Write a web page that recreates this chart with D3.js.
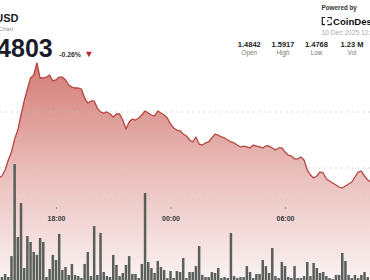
<!DOCTYPE html>
<html><head><meta charset="utf-8">
<script src="https://cdn.jsdelivr.net/npm/d3@7"></script>
<style>
html,body{margin:0;padding:0;background:#fff;overflow:hidden}
svg{display:block;font-family:"Liberation Sans",Arial,sans-serif}
</style></head>
<body>
<svg id="c" width="370" height="280"></svg>
<script>
// ---- data ----
const pairLabel = "USD";
const subtitle = "Chart";
const lastPrice = "1.4803";
const changePct = "-0.26%";
const statValues = ["1.4842", "1.5917", "1.4768", "1.23 M"];
const statLabels = ["Open", "High", "Low", "Vol"];
const timestamp = "10 Dec 2025 12:00";
const timeTicks = ["18:00", "00:00", "06:00"];
// 10-minute closes, starting 9 Dec 15:00
const prices = [
1.4860,1.4878,1.4933,1.5025,1.5099,1.5218,1.5301,1.5439,1.5568,1.5678,
1.5779,1.5807,1.5917,1.5779,1.5779,1.5788,1.5807,1.5752,1.5761,1.5788,
1.5788,1.5761,1.5715,1.5696,1.5687,1.5687,1.5678,1.5595,1.5549,1.5568,
1.5568,1.5503,1.5467,1.5457,1.5467,1.5448,1.5421,1.5448,1.5448,1.5393,
1.5310,1.5375,1.5402,1.5393,1.5411,1.5439,1.5476,1.5457,1.5439,1.5430,
1.5476,1.5457,1.5439,1.5411,1.5356,1.5320,1.5301,1.5292,1.5264,1.5246,
1.5209,1.5191,1.5237,1.5172,1.5163,1.5182,1.5191,1.5228,1.5264,1.5255,
1.5237,1.5228,1.5209,1.5191,1.5182,1.5163,1.5145,1.5154,1.5145,1.5136,
1.5163,1.5154,1.5145,1.5136,1.5154,1.5154,1.5136,1.5117,1.5136,1.5136,
1.5099,1.5071,1.5062,1.5035,1.5035,1.5053,1.5025,1.4933,1.4888,1.4860,
1.4878,1.4915,1.4906,1.4851,1.4832,1.4814,1.4796,1.4777,1.4768,1.4786,
1.4805,1.4823,1.4869,1.4915,1.4924,1.4878,1.4842,1.4823];
// 10-minute volumes (thousands)
const volumes = [
11.0,2.4,4.3,2.4,15.2,71.3,26.8,47.6,7.9,27.4,
23.8,17.7,15.9,26.2,23.8,2.4,7.3,15.9,12.8,28.7,
6.7,8.5,3.7,10.4,3.7,3.0,1.8,10.4,17.7,3.0,
33.5,3.7,29.3,5.5,3.0,2.4,15.9,9.8,3.0,4.9,
9.8,15.2,4.3,4.3,1.8,10.4,53.7,11.6,7.9,4.9,
12.2,8.5,6.7,1.8,6.1,1.8,6.1,5.5,14.0,1.8,
5.5,5.5,9.1,21.3,3.7,2.4,2.4,5.5,4.9,7.9,
1.8,2.4,1.8,29.3,3.0,1.8,2.4,2.4,9.1,5.5,
1.8,4.3,4.3,12.8,9.1,4.9,20.1,3.0,1.8,11.6,
9.1,2.4,1.8,9.1,1.8,1.8,3.0,11.6,3.0,11.0,
7.9,4.9,5.5,3.0,1.8,1.2,3.7,3.7,17.1,12.2,
3.7,1.8,3.7,1.8,3.7,5.5,2.4];
const priceGrid = [1.4952, 1.5467];
const volumeGrid = [50];

// ---- drawing ----
const svg = d3.select("#c");
const W = 370, H = 280;
const times = prices.map((p, i) => new Date(2025, 11, 9, 15, i * 10));
const x = d3.scaleTime()
  .domain([new Date(2025, 11, 9, 18, 0), new Date(2025, 11, 10, 6, 0)])
  .range([56, 285]);
const y = d3.scaleLinear().domain([1.4768, 1.5917]).range([188, 63]);
const yv = d3.scaleLinear().domain([0, 50]).range([281, 199]);

const defs = svg.append("defs");
const g = defs.append("linearGradient").attr("id", "fill")
  .attr("gradientUnits", "userSpaceOnUse").attr("x1", 0).attr("x2", 0)
  .attr("y1", 60).attr("y2", H);
g.append("stop").attr("offset", 0).attr("stop-color", "#d37a74");
g.append("stop").attr("offset", 0.5).attr("stop-color", "#e9bdba");
g.append("stop").attr("offset", 1).attr("stop-color", "#faf3f3");

const area = d3.area().x((d, i) => x(times[i])).y0(H + 2).y1(d => y(d));
svg.append("path").datum(prices).attr("d", area).attr("fill", "url(#fill)");

// grid lines
svg.selectAll(".pg").data(priceGrid).join("line")
  .attr("x1", 0).attr("x2", W).attr("y1", d => y(d)).attr("y2", d => y(d))
  .attr("stroke", "#c4c4c4").attr("stroke-width", 1).attr("stroke-dasharray", "1.3,4.2");
svg.selectAll(".vg").data(volumeGrid).join("line")
  .attr("x1", 0).attr("x2", W).attr("y1", d => yv(d)).attr("y2", d => yv(d))
  .attr("stroke", "#d9c4c4").attr("stroke-width", 1).attr("stroke-dasharray", "1.3,4.2");

// volume bars
const bw = 2.5;
svg.append("g").selectAll("rect").data(volumes).join("rect")
  .attr("x", (d, i) => x(times[i]) - bw / 2)
  .attr("width", bw)
  .attr("y", d => yv(d))
  .attr("height", d => yv(0) - yv(d))
  .attr("fill", "#5b5f5b");

// price line
const line = d3.line().x((d, i) => x(times[i])).y(d => y(d));
svg.append("path").datum(prices).attr("d", line)
  .attr("fill", "none").attr("stroke", "#b5453f").attr("stroke-width", 1.3)
  .attr("stroke-linejoin", "round");

// time axis
const parse = d3.timeParse("%Y-%m-%d %H:%M");
const tickDates = [parse("2025-12-09 " + timeTicks[0]), parse("2025-12-10 " + timeTicks[1]), parse("2025-12-10 " + timeTicks[2])];
const ax = svg.append("g").attr("transform", "translate(0,207)")
  .call(d3.axisBottom(x).tickValues(tickDates).tickFormat(d3.timeFormat("%H:%M")).tickSize(2).tickPadding(7));
ax.select(".domain").remove();
ax.selectAll("line").attr("stroke", "#999");
ax.selectAll("text").attr("fill", "#3a3a3a").style("font-size", "7px").style("font-weight", "bold")
  .style("font-family", '"Liberation Sans",Arial,sans-serif');

// header left
svg.append("text").attr("x", 18.5).attr("y", 22).attr("text-anchor", "end")
  .style("font-size", "11px").style("font-weight", "bold").attr("fill", "#1b1b29").text(pairLabel);
svg.append("text").attr("x", 13.3).attr("y", 30.8).attr("text-anchor", "end")
  .style("font-size", "6px").attr("fill", "#999").text(subtitle);
svg.append("text").attr("x", 52.7).attr("y", 57.4).attr("text-anchor", "end")
  .style("font-size", "25px").style("font-weight", "bold").attr("fill", "#1b1b29").text(lastPrice);
svg.append("text").attr("x", 59.3).attr("y", 57).style("font-size", "6.8px").style("font-weight", "bold")
  .attr("fill", "#333").text(changePct);
svg.append("path").attr("d", "M86,51.8 L91.8,51.8 L88.9,57.3 Z").attr("fill", "#c0282a");

// header right
svg.append("text").attr("x", 321.5).attr("y", 9.5).style("font-size", "6.3px").style("font-weight", "bold")
  .attr("fill", "#333").text("Powered by");
const icon = svg.append("g").attr("fill", "none").attr("stroke", "#222").attr("stroke-width", 1.2);
icon.append("path").attr("d", "M325,17.5 H322.3 V24.7 H325");
icon.append("path").attr("d", "M327.5,17.5 H331.2 V19.5");
icon.append("path").attr("d", "M331.2,22.5 V24.7 H327.5");
svg.append("rect").attr("x", 327).attr("y", 20.3).attr("width", 1.4).attr("height", 1.4).attr("fill", "#222");
svg.append("text").attr("x", 333).attr("y", 24.8).style("font-size", "9.6px").style("font-weight", "bold")
  .attr("fill", "#111").text("CoinDesk");
svg.append("text").attr("x", 321.7).attr("y", 35).style("font-size", "6.6px")
  .attr("fill", "#aaa").text(timestamp);

const statX = [249.3, 283, 316.5, 352];
svg.selectAll(".sv").data(statValues).join("text")
  .attr("x", (d, i) => statX[i]).attr("y", 46.7).attr("text-anchor", "middle")
  .style("font-size", "7.5px").style("font-weight", "bold").attr("fill", "#222").text(d => d);
svg.selectAll(".sl").data(statLabels).join("text")
  .attr("x", (d, i) => statX[i]).attr("y", 55.2).attr("text-anchor", "middle")
  .style("font-size", "6.3px").attr("fill", "#777").text(d => d);
</script>
</body></html>
